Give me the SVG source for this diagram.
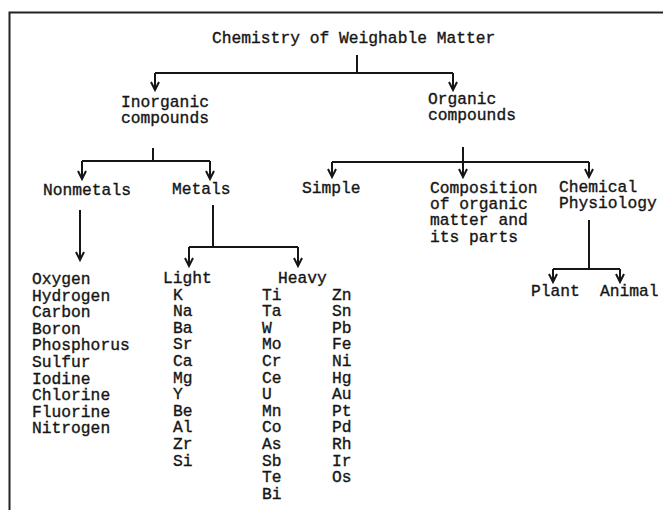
<svg xmlns="http://www.w3.org/2000/svg" width="663" height="510" viewBox="0 0 663 510">
<style>
text { font-family: "Liberation Mono", "Courier New", monospace; font-size: 16.3px; fill: #161616; stroke: #161616; stroke-width: 0.35; }
.ln { stroke: #161616; stroke-width: 2; fill: none; }
.ar { marker-end: url(#arr); }
</style>
<defs>
<marker id="arr" markerUnits="userSpaceOnUse" viewBox="-10 -6 12 12" markerWidth="12" markerHeight="12" refX="0" refY="0" orient="auto">
<path d="M-8,-4 L0,0 L-8,4" fill="none" stroke="#161616" stroke-width="2"/>
</marker>
</defs>
<rect width="663" height="510" fill="#fff"/>
<g id="frame">
<path d="M9.5,510 V12.5 H663" stroke="#222" stroke-width="2" fill="none"/>
</g>
<g id="connectors">
<path class="ln" d="M357,55 V73 M155,73 H453"/>
<path class="ln ar" d="M155,73 V90"/>
<path class="ln ar" d="M453,73 V90"/>
<path class="ln" d="M153,148 V161 M82,161 H210"/>
<path class="ln ar" d="M82,161 V179"/>
<path class="ln ar" d="M210,161 V179"/>
<path class="ln" d="M332,162 H589"/>
<path class="ln ar" d="M463,147 V177"/>
<path class="ln ar" d="M332,162 V177"/>
<path class="ln ar" d="M589,162 V177"/>
<path class="ln ar" d="M80,210 V260"/>
<path class="ln" d="M213,205 V247 M189,247 H298"/>
<path class="ln ar" d="M189,247 V266"/>
<path class="ln ar" d="M298,247 V266"/>
<path class="ln" d="M589,220 V269 M553,269 H620"/>
<path class="ln ar" d="M553,269 V282"/>
<path class="ln ar" d="M620,269 V282"/>
</g>
<g id="title"><text x="212" y="43">Chemistry of Weighable Matter</text></g>
<g id="inorganic"><text x="121" y="107">Inorganic<tspan x="121" dy="16">compounds</tspan></text></g>
<g id="organic"><text x="428" y="104">Organic<tspan x="428" dy="16">compounds</tspan></text></g>
<g id="nonmetals"><text x="43" y="195">Nonmetals</text></g>
<g id="metals"><text x="172" y="194">Metals</text></g>
<g id="simple"><text x="302" y="193">Simple</text></g>
<g id="composition"><text x="430" y="193">Composition<tspan x="430" dy="16.2">of organic</tspan><tspan x="430" dy="16.2">matter and</tspan><tspan x="430" dy="16.2">its parts</tspan></text></g>
<g id="chemical-physiology"><text x="559" y="192">Chemical<tspan x="559" dy="16">Physiology</tspan></text></g>
<g id="plant"><text x="531" y="296">Plant</text></g>
<g id="animal"><text x="600" y="296">Animal</text></g>
<g id="nonmetal-list"><text x="32" y="284">Oxygen<tspan x="32" dy="16.6">Hydrogen</tspan><tspan x="32" dy="16.6">Carbon</tspan><tspan x="32" dy="16.6">Boron</tspan><tspan x="32" dy="16.6">Phosphorus</tspan><tspan x="32" dy="16.6">Sulfur</tspan><tspan x="32" dy="16.6">Iodine</tspan><tspan x="32" dy="16.6">Chlorine</tspan><tspan x="32" dy="16.6">Fluorine</tspan><tspan x="32" dy="16.6">Nitrogen</tspan></text></g>
<g id="light"><text x="163" y="283">Light</text>
<text x="173" y="299.6">K<tspan x="173" dy="16.6">Na</tspan><tspan x="173" dy="16.6">Ba</tspan><tspan x="173" dy="16.6">Sr</tspan><tspan x="173" dy="16.6">Ca</tspan><tspan x="173" dy="16.6">Mg</tspan><tspan x="173" dy="16.6">Y</tspan><tspan x="173" dy="16.6">Be</tspan><tspan x="173" dy="16.6">Al</tspan><tspan x="173" dy="16.6">Zr</tspan><tspan x="173" dy="16.6">Si</tspan></text></g>
<g id="heavy"><text x="278" y="283">Heavy</text>
<text x="262" y="299.6">Ti<tspan x="262" dy="16.6">Ta</tspan><tspan x="262" dy="16.6">W</tspan><tspan x="262" dy="16.6">Mo</tspan><tspan x="262" dy="16.6">Cr</tspan><tspan x="262" dy="16.6">Ce</tspan><tspan x="262" dy="16.6">U</tspan><tspan x="262" dy="16.6">Mn</tspan><tspan x="262" dy="16.6">Co</tspan><tspan x="262" dy="16.6">As</tspan><tspan x="262" dy="16.6">Sb</tspan><tspan x="262" dy="16.6">Te</tspan><tspan x="262" dy="16.6">Bi</tspan></text>
<text x="332" y="299.6">Zn<tspan x="332" dy="16.6">Sn</tspan><tspan x="332" dy="16.6">Pb</tspan><tspan x="332" dy="16.6">Fe</tspan><tspan x="332" dy="16.6">Ni</tspan><tspan x="332" dy="16.6">Hg</tspan><tspan x="332" dy="16.6">Au</tspan><tspan x="332" dy="16.6">Pt</tspan><tspan x="332" dy="16.6">Pd</tspan><tspan x="332" dy="16.6">Rh</tspan><tspan x="332" dy="16.6">Ir</tspan><tspan x="332" dy="16.6">Os</tspan></text></g>
</svg>
